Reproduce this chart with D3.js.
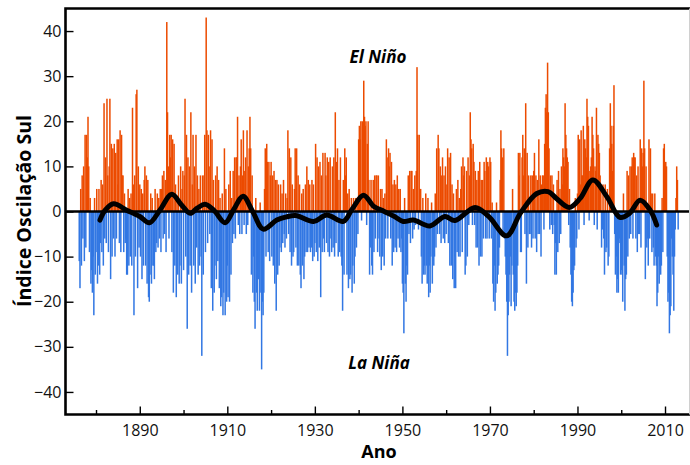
<!DOCTYPE html>
<meta charset="utf-8">
<style>
body, html {
  margin: 0;
  padding: 0;
  background: #fff;
}
svg {
  display: block;
  font-family: "Open Sans", sans-serif;
}
</style>
<body>
<script src="https://cdn.jsdelivr.net/npm/d3@7"></script>
<script>

// Southern Oscillation index, six values per year (Jan-Feb ... Nov-Dec)
var startYear = 1876

var soi1870s = [
  -11, -17, 5, -12, 8, -6,
  10, -11, 17, -8, 17, 12,
  21, 10, -9, 3, -16, -13,
  -18, -10, -23, 3, -14, -9
]
var soi1880s = [
  5, -16, -12, 5, -14, -7,
  7, -9, 6, -12, 24, -6,
  12, -7, 25, 8, -9, 10,
  25, -15, 15, -10, 14, -6,
  15, -10, 13, -6, 16, 6,
  16, -7, 18, -9, 17, 8,
  8, -9, 4, -7, -6, -14,
  -14, 5, -12, 3, -10, 4,
  -12, 23, 6, -23, 8, -10,
  26, 27, -17, 10, -8, 6
]
var soi1890s = [
  -10, 5, -15, 4, -12, 7,
  10, -12, 8, -16, 7, -19,
  -20, -14, 4, -16, 3, -12,
  -12, -15, 5, -9, -7, 4,
  -8, 3, -6, 5, -9, 5,
  8, -6, 9, -5, 7, -9,
  42, 22, 10, -6, 17, 12,
  17, -9, 16, -18, 15, -12,
  6, -19, 3, -14, 8, -16,
  -12, 10, -16, 5, 9, -13
]
var soi1900s = [
  8, 25, -10, 17, -26, 12,
  -14, 10, -12, 22, -18, 6,
  17, -12, 10, -16, 17, -8,
  8, -14, 5, -12, 8, -10,
  -32, 8, -14, 8, 17, -9,
  43, 18, -7, 17, 10, -5,
  18, -17, 16, -22, 7, -18,
  -12, 8, -15, 10, -11, 7,
  -17, 3, -21, -19, 4, -23,
  -18, 14, -23, 5, -20, -12
]
var soi1910s = [
  -19, 6, -20, 9, -14, 3,
  -7, 9, -5, 12, -6, 12,
  12, 21, -3, 8, -5, 10,
  16, -5, 8, 18, -3, 9,
  12, -5, 18, -3, 10, 14,
  21, 14, -14, 8, -18, -10,
  -20, -26, 3, -18, -22, -15,
  -15, -22, 2, -18, -35, -20,
  -23, -18, 5, 14, -10, 15,
  11, -9, 11, -11, 8, 11
]
var soi1920s = [
  -10, 8, -12, 9, -16, 7,
  -22, 7, -14, 6, -12, -8,
  6, -9, 4, -7, 7, -5,
  -8, 4, -6, 3, 18, -5,
  14, -9, 12, -12, 6, -10,
  -9, 5, 14, -8, 14, -12,
  8, -12, 6, -14, -17, 4,
  -12, 5, -15, -10, 6, -9,
  10, -9, 7, -8, 6, -9,
  -8, 7, -11, 6, -10, -7
]
var soi1930s = [
  15, -9, 12, -11, 10, -8,
  11, -19, 8, -9, 13, -6,
  -9, 13, 8, -7, 12, -9,
  11, -10, 12, -6, -9, 10,
  -8, 12, -10, 22, -7, 11,
  14, -10, 7, -9, 12, -10,
  -12, -22, 7, -14, 14, 8,
  12, -14, 4, -17, 5, -15,
  -14, 3, -18, -12, 3, -16,
  -10, 3, -8, 3, -5, 16
]
var soi1940s = [
  19, 16, 20, -2, 20, 19,
  29, 21, 19, 20, -3, 15,
  20, 7, -14, -8, 7, -12,
  -14, 7, -9, 8, -6, 8,
  8, -9, 8, -6, -10, 5,
  -13, 5, -10, 3, -12, 4,
  -6, 16, 12, -6, 14, 10,
  13, -6, 11, -12, 6, -9,
  7, -8, 6, -9, 8, -6,
  5, -8, 5, -9, -6, -16
]
var soi1950s = [
  -18, -27, 3, -16, -20, -12,
  -14, 8, -5, 9, -7, 9,
  9, -6, 5, -4, 8, -3,
  9, 32, 17, -4, 17, 5,
  5, -10, -16, 3, -14, -12,
  -14, 4, -12, -16, 3, -19,
  -12, -18, -10, 2, -16, -11,
  -12, -10, 4, -8, 14, -5,
  17, 14, -5, 10, -7, 8,
  12, -6, 8, -7, 10, -5
]
var soi1960s = [
  6, 14, -7, 12, -12, 13,
  -12, 6, -15, 4, -17, -10,
  -17, 5, -9, 7, -10, 3,
  -10, 5, 10, -9, 12, 8,
  10, -14, -12, 9, -10, 12,
  -3, 8, 22, 16, 14, -3,
  15, 11, -3, 9, -8, 7,
  -8, 9, -12, 11, -10, 7,
  -10, 7, -6, 11, 9, -6,
  12, -6, 11, 10, -6, 12
]
var soi1970s = [
  11, -6, 2, -16, -20, -12,
  -22, -18, 2, -16, -14, -12,
  -8, 7, 18, 14, 12, -5,
  14, -6, -10, -14, -20, -32,
  -23, -20, -14, -10, -21, -12,
  5, -14, -20, -22, -18, -21,
  -18, -12, 13, 8, 13, -9,
  -9, 12, 17, 8, 14, -5,
  24, -16, 13, -8, 8, -5,
  -5, 8, -8, 8, -6, 9
]
var soi1980s = [
  13, -6, 8, -9, 7, -5,
  16, -5, 8, -10, 6, 8,
  8, -4, 15, 23, 26, 22,
  33, 22, 14, -4, 8, -3,
  8, -5, 6, -3, -14, -7,
  -14, 7, -9, 9, -7, 5,
  -5, 10, 6, 14, 12, 10,
  24, 17, 14, 12, 11, -3,
  5, -8, -14, -20, -21, -18,
  -13, -12, 3, -8, -6, 4
]
var soi1990s = [
  17, -4, 16, 6, 18, 8,
  8, 19, -3, 16, 14, 12,
  25, 21, 19, -2, 9, 10,
  12, 21, 17, 14, -3, 10,
  9, 23, -4, 17, 15, 13,
  8, 5, -8, -4, 6, -6,
  -14, 6, -9, -8, 5, -12,
  -10, 14, 24, 19, 15, 9,
  19, 28, -5, -14, -10, -18,
  -15, -18, -7, -6, -14, -13
]
var soi2000s = [
  -14, -20, 4, -12, -22, -15,
  -14, 9, -10, 8, -6, 10,
  -5, 10, 12, -6, 13, 12,
  12, -6, 8, -9, 10, -5,
  -5, 16, -8, 14, 10, 13,
  29, 14, -15, 10, -8, -6,
  -12, 16, -6, 14, 4, -9,
  4, -8, -12, 4, -10, -12,
  -21, -18, -10, -16, -12, -14,
  -12, 3, -9, 14, 15, 9
]
var soi2010s = [
  11, 10, -10, -20, -18, -27,
  -23, -21, -6, -10, -14, -22,
  -10, -4, 3, 10, 7, -4
]

// smoothed curve
var smoothYears = [1880.9, 1882.1, 1884.0, 1887.0, 1890.0, 1892.2, 1894.6, 1897.3, 1899.5, 1901.5,
  1903.2, 1904.9, 1907.0, 1909.5, 1911.5, 1913.6, 1915.8, 1918.2, 1921.3, 1923.5,
  1925.6, 1929.7, 1932.7, 1936.5, 1938.5, 1941.1, 1943.5, 1945.5, 1948.0, 1950.2,
  1952.5, 1956.3, 1959.7, 1962.0, 1966.6, 1969.7, 1973.8, 1977.0, 1980.7, 1983.3,
  1985.2, 1988.1, 1990.6, 1993.5, 1996.7, 1999.7, 2001.9, 2004.3, 2006.6, 2008.1]
var smoothValues = [-1.9, 0.3, 1.7, 0.3, -1.1, -2.5, 0.3, 3.8, 1.5, -0.4,
  0.8, 1.6, 0.2, -2.5, 0.5, 3.4, 0.0, -3.9, -1.9, -1.2,
  -0.9, -2.2, -0.8, -2.2, 0.5, 3.6, 1.1, 0.2, -1.0, -2.2,
  -1.9, -3.2, -1.1, -2.0, 0.9, -1.1, -5.4, -0.3, 4.0, 4.4,
  2.9, 0.9, 2.9, 7.0, 3.3, -1.3, -0.4, 2.5, 0.3, -3.0]

var yTicks = [-40, -30, -20, -10, 0, 10, 20, 30, 40]
var xMajor = [1890, 1910, 1930, 1950, 1970, 1990, 2010]
var xMinor = [1880, 1900, 1920, 1940, 1960, 1980, 2000]

var width = 690,
    height = 465,
    plotLeft = 65.5,
    plotRight = 689,
    plotTop = 8.5,
    plotBottom = 414.5,
    orange = "#ec4b00",
    blue = "#3277e3"

var x = d3.scaleLinear().domain([1873.03, 2015.48]).range([plotLeft, plotRight])
var y = d3.scaleLinear().domain([-45, 45]).range([plotBottom, plotTop])

var svg = d3.select("body").append("svg")
    .attr("width", width)
    .attr("height", height)

var soi = [].concat(soi1870s, soi1880s, soi1890s, soi1900s, soi1910s, soi1920s,
  soi1930s, soi1940s, soi1950s, soi1960s, soi1970s, soi1980s, soi1990s, soi2000s, soi2010s)

var bars = soi.map(function (v, i) { return {t: startYear + i / 6, v: v} })

svg.append("g")
  .selectAll("rect")
  .data(bars)
  .join("rect")
    .attr("x", function (d) { return x(d.t) })
    .attr("width", 1.5)
    .attr("y", function (d) { return d.v > 0 ? y(d.v) : y(0) })
    .attr("height", function (d) { return Math.abs(y(d.v) - y(0)) })
    .attr("fill", function (d) { return d.v > 0 ? orange : blue })

// zero line
svg.append("line")
    .attr("x1", plotLeft).attr("x2", width)
    .attr("y1", y(0)).attr("y2", y(0))
    .attr("stroke", "#000")
    .attr("stroke-width", 2.5)

// smoothed index
var smooth = smoothYears.map(function (t, i) { return [t, smoothValues[i]] })
svg.append("path")
    .datum(smooth)
    .attr("fill", "none")
    .attr("stroke", "#000")
    .attr("stroke-width", 5)
    .attr("stroke-linecap", "round")
    .attr("stroke-linejoin", "round")
    .attr("d", d3.line()
      .x(function (d) { return x(d[0]) })
      .y(function (d) { return y(d[1]) })
      .curve(d3.curveCatmullRom.alpha(0.5)))

// axes
svg.append("g")
    .attr("transform", "translate(" + plotLeft + ",0)")
    .call(d3.axisLeft(y).tickValues(yTicks).tickSize(-8).tickPadding(4))

svg.append("g")
    .attr("transform", "translate(0," + plotBottom + ")")
    .call(d3.axisBottom(x).tickValues(xMajor).tickFormat(d3.format("d")).tickSize(-8).tickPadding(10))

svg.append("g")
    .attr("transform", "translate(0," + plotBottom + ")")
    .call(d3.axisBottom(x).tickValues(xMinor).tickFormat("").tickSize(-4.5))

svg.selectAll(".domain").remove()
svg.selectAll(".tick line").attr("stroke", "#000").attr("stroke-width", 1.4)
svg.selectAll(".tick text")
    .attr("fill", "#111")
    .style("font-size", "16px")
    .style("font-family", "'Open Sans', sans-serif")

// frame
svg.append("path")
    .attr("d", "M" + width + "," + plotTop + "H" + plotLeft + "V" + plotBottom + "H" + width)
    .attr("fill", "none")
    .attr("stroke", "#000")
    .attr("stroke-width", 2.6)

svg.append("line")
    .attr("x1", plotRight + 0.5).attr("x2", plotRight + 0.5)
    .attr("y1", plotTop).attr("y2", plotBottom)
    .attr("stroke", "#d0d0d0")
    .attr("stroke-width", 1)

// titles
svg.append("text")
    .attr("x", 379)
    .attr("y", 458)
    .attr("text-anchor", "middle")
    .style("font-size", "18px")
    .style("font-weight", "bold")
    .text("Ano")

svg.append("text")
    .attr("transform", "translate(31,211) rotate(-90)")
    .attr("text-anchor", "middle")
    .attr("textLength", 192)
    .attr("lengthAdjust", "spacingAndGlyphs")
    .style("font-size", "19px")
    .style("font-weight", "bold")
    .text("Índice Oscilação Sul")

svg.append("text")
    .attr("x", 378)
    .attr("y", 63)
    .attr("text-anchor", "middle")
    .style("font-size", "17px")
    .style("font-weight", "bold")
    .style("font-style", "italic")
    .text("El Niño")

svg.append("text")
    .attr("x", 379)
    .attr("y", 369)
    .attr("text-anchor", "middle")
    .style("font-size", "17px")
    .style("font-weight", "bold")
    .style("font-style", "italic")
    .text("La Niña")

</script>
</body>
